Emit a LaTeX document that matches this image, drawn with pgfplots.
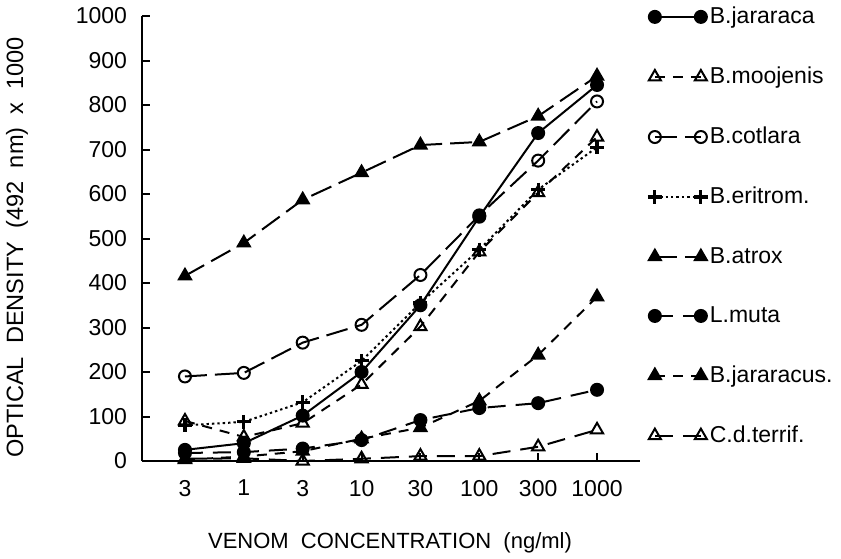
\documentclass[border=0pt]{standalone}
\usepackage{fontspec}
\setmainfont{Liberation Sans}
\usepackage{pgfplots}
\pgfplotsset{compat=1.18}
\begin{document}
\begin{tikzpicture}
\useasboundingbox (-71pt,-48.5pt) rectangle (349.5pt,230.5pt);
\begin{axis}[
  scale only axis, width=249pt, height=222.5pt,
  xmin=-0.73, xmax=7.73, ymin=0, ymax=1000,
  axis x line*=bottom, axis y line*=left,
  axis line style={line width=1.2pt, -},
  xtick={0,...,7}, xticklabels={3,1,3,10,30,100,300,1000},
  ytick={0,100,...,1000},
  tick align=inside, major tick length=4pt,
  tick style={line width=1pt, black},
  /pgf/number format/assume math mode=true,
  /pgf/number format/1000 sep={},
  ticklabel style={font=\fontsize{11.5}{13}\selectfont},
  yticklabel style={xshift=-4pt},
  xticklabel style={yshift=-6pt},
  xlabel={VENOM\ \ CONCENTRATION\ \ (ng/ml)},
  ylabel={OPTICAL\ \ DENSITY\ \ (492\ \ nm)\ \ x\ \ 1000},
  xlabel style={at={(axis description cs:0.498,-0.184)}, anchor=center, font=\fontsize{11}{13}\selectfont},
  ylabel style={at={(axis description cs:-0.251,0.48)}, anchor=center, rotate=0, font=\fontsize{11.8}{13}\selectfont},
  legend style={draw=none, fill=none, at={(axis description cs:1.015,1.03)}, anchor=north west,
    row sep=16.2pt, font=\fontsize{11.5}{13}\selectfont, inner sep=0pt,
    nodes={inner xsep=1pt}},
  legend cell align=left,
  legend image code/.code={\draw[#1] plot coordinates {(0pt,0pt) (23pt,0pt)};},
  every axis plot/.append style={line width=1pt, black, mark options={solid, fill=black}},
]
% B.jararaca
\addplot[solid, mark=*, mark size=3pt] coordinates {(0,25) (1,40) (2,102) (3,200) (4,350) (5,549) (6,737) (7,845)};
\addlegendentry{B.jararaca}
% B.moojenis
\addplot[dash pattern=on 5pt off 4pt, mark=triangle, mark size=3.5pt, mark options={solid, fill=white}] coordinates {(0,90) (1,54) (2,85) (3,172) (4,302) (5,470) (6,603) (7,728)};
\addlegendentry{B.moojenis}
% B.cotlara
\addplot[dash pattern=on 11pt off 4pt, mark=o, mark size=3pt, mark options={solid, fill=white}] coordinates {(0,190) (1,198) (2,266) (3,306) (4,418) (5,552) (6,675) (7,808)};
\addlegendentry{B.cotlara}
% B.eritrom
\addplot[dash pattern=on 1.2pt off 1.5pt, mark=+, mark size=3.5pt, mark options={solid, line width=1.6pt}] coordinates {(0,80) (1,88) (2,132) (3,225) (4,355) (5,475) (6,610) (7,705)};
\addlegendentry{B.eritrom.}
% B.atrox
\addplot[dash pattern=on 11pt off 4pt, mark=triangle*, mark size=3.5pt] coordinates {(0,416) (1,490) (2,587) (3,648) (4,710) (5,717) (6,775) (7,865)};
\addlegendentry{B.atrox}
% L.muta
\addplot[dash pattern=on 9pt off 5pt, mark=*, mark size=3pt] coordinates {(0,18) (1,20) (2,28) (3,47) (4,92) (5,119) (6,130) (7,160)};
\addlegendentry{L.muta}
% B.jararacus
\addplot[dash pattern=on 5pt off 4pt, mark=triangle*, mark size=3.5pt] coordinates {(0,3) (1,10) (2,22) (3,50) (4,75) (5,135) (6,238) (7,369)};
\addlegendentry{B.jararacus.}
% C.d.terrif.
\addplot[dash pattern=on 9pt off 5pt, mark=triangle, mark size=3.5pt, mark options={solid, fill=white}] coordinates {(0,5) (1,6) (2,0) (3,5) (4,11) (5,11) (6,32) (7,70)};
\addlegendentry{C.d.terrif.}
\end{axis}
\end{tikzpicture}
\end{document}
